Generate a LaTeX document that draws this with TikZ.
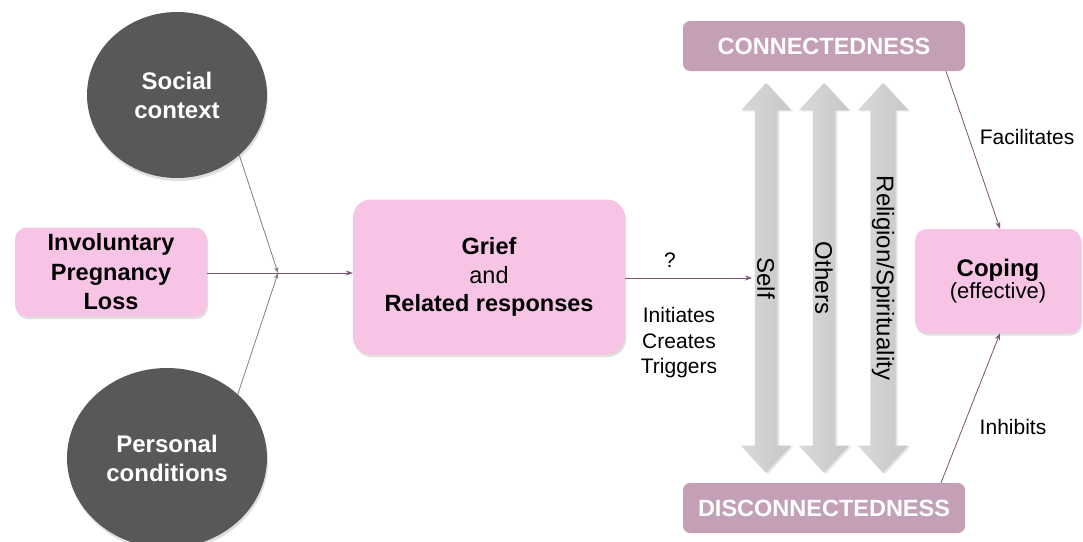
\documentclass[tikz,border=0pt]{standalone}
\usepackage{fontspec}
\setmainfont{Liberation Sans}
\usetikzlibrary{shapes.geometric,shapes.arrows,arrows.meta,shadows}
\definecolor{pinkbox}{HTML}{F7C4E6}
\definecolor{mauvebox}{HTML}{C4A0B6}
\definecolor{darkcirc}{HTML}{585858}
\definecolor{linkcol}{HTML}{7B5470}
\definecolor{leftline}{HTML}{808080}
\tikzset{
  pinknode/.style={draw=none, fill=pinkbox, rounded corners=12pt, align=center,
    drop shadow={opacity=0.25, shadow xshift=1pt, shadow yshift=-2.5pt}},
  darkcircle/.style={ellipse, fill=darkcirc, text=white, align=center, inner sep=0pt,
    font=\bfseries\fontsize{24}{29}\selectfont,
    drop shadow={opacity=0.25, shadow xshift=1pt, shadow yshift=-3pt}},
  mauvenode/.style={fill=mauvebox, rounded corners=7pt, text=white,
    font=\bfseries\fontsize{23.5}{26}\selectfont, minimum width=282pt, minimum height=50pt},
  grayarrow/.style={double arrow, rotate=-90, minimum height=390pt, minimum width=50pt,
    double arrow head extend=11pt, double arrow tip angle=85, inner sep=0pt,
    left color=gray!30, right color=gray!44, draw=none,
    drop shadow={opacity=0.2, shadow xshift=2pt, shadow yshift=-1pt},
    font=\fontsize{24}{26}\selectfont},
  link/.style={draw=linkcol, line width=0.8pt, -{Stealth[length=7pt,width=5pt]}},
  feed/.style={draw=leftline, line width=0.8pt, -{Stealth[length=6pt,width=4.5pt]}},
  lbl/.style={font=\fontsize{21}{25.5}\selectfont, align=center, inner sep=0pt}
}
\begin{document}
\begin{tikzpicture}[x=1pt,y=-1pt]
\useasboundingbox[fill=white] (0,0) rectangle (1083,541);

% left side
\node[darkcircle, minimum width=180pt, minimum height=166pt] (social) at (177,95) {Social\\context};
\node[darkcircle, minimum width=200pt, minimum height=180pt] (personal) at (167,458) {Personal\\conditions};
\node[pinknode, minimum width=192pt, minimum height=89pt,
  font=\bfseries\fontsize{23.5}{29.5}\selectfont] (ipl) at (111,272) {Involuntary\\Pregnancy\\Loss};

\coordinate (m) at (278,273);
\draw[feed] (social.-44) -- (m);
\draw[feed] (personal.42) -- (m);
\draw[draw=linkcol, line width=0.8pt] (ipl.east |- m) -- (m);

% grief
\node[pinknode, rounded corners=18pt, minimum width=272pt, minimum height=155pt,
  font=\fontsize{23.5}{28.5}\selectfont] (grief) at (489,277)
  {\textbf{Grief}\\and\\\textbf{Related responses}};
\draw[link] (m) -- (grief.west |- m);

% gray double arrows
\node[grayarrow] (self) at (766,278) {Self};
\node[grayarrow] (others) at (824,278) {Others};
\node[grayarrow] (relig) at (883,278) {Religion/Spirituality};

\coordinate (selfin) at (752,278);
\draw[link] (grief.east |- selfin) -- (selfin);
\node[lbl] (q) at (670,260) {?};
\node[lbl] (ict) at (679,343) {Initiates\\Creates\\Triggers};

% connectedness boxes
\node[mauvenode] (conn) at (824,46) {CONNECTEDNESS};
\node[mauvenode] (disc) at (824,508) {DISCONNECTEDNESS};

% coping
\node[pinknode, minimum width=166pt, minimum height=104pt] (coping) at (998,281)
  {{\bfseries\fontsize{24}{29}\selectfont Coping}\\{\fontsize{22}{29}\selectfont (effective)}};

\draw[link] (conn.south -| 946,0) -- (coping.north -| 1000,0);
\draw[link] (disc.north -| 941,0) -- (coping.south -| 1000,0);
\node[lbl] (fac) at (1027,137) {Facilitates};
\node[lbl] (inh) at (1013,427) {Inhibits};
\end{tikzpicture}
\end{document}
